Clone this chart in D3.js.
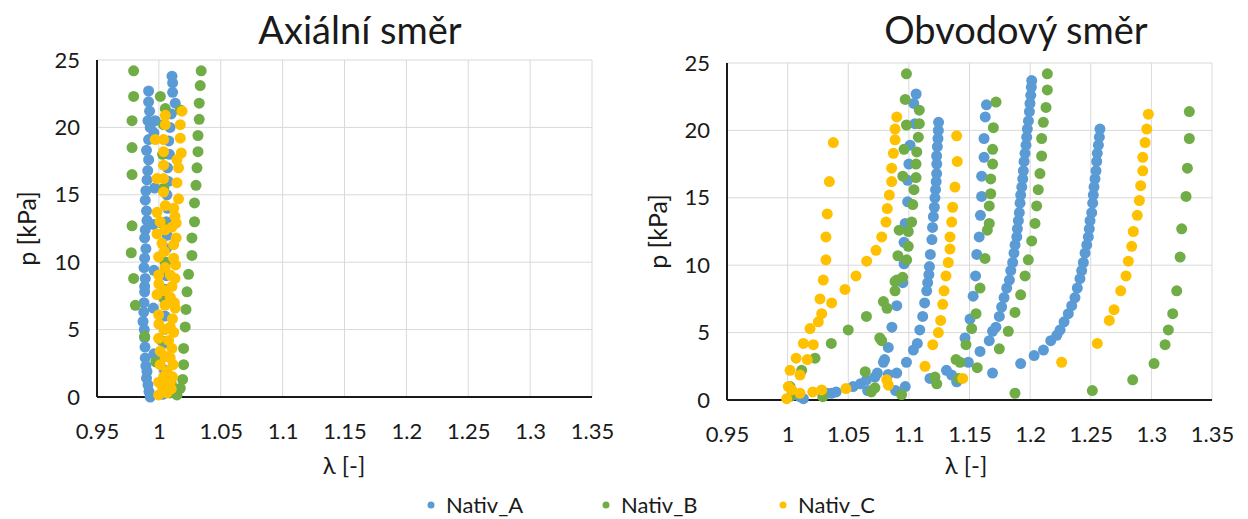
<!DOCTYPE html>
<html>
<head>
<meta charset="utf-8">
<style>
    body { margin: 0; background-color: #ffffff; }
    text { font-family: Lato, "Open Sans", sans-serif; fill: #1a1a1a; }
</style>
</head>
<body>
<div class="board"></div>
<script src="https://d3js.org/d3.v7.min.js"></script>
<script>
    // tick labels and legend
    const xTicks = [0.95, 1, 1.05, 1.1, 1.15, 1.2, 1.25, 1.3, 1.35]
    const yTicks = [0, 5, 10, 15, 20, 25]
    const seriesNames = ["Nativ_A", "Nativ_B", "Nativ_C"]

    // axial direction, [lambda, p kPa]
    const axialA = [
        [0.9917, 22.7], [0.9917, 21.9], [0.9925, 21.2], [0.9912, 20.5], [0.9930, 20.0], [0.9917, 19.1],
        [0.9900, 18.3], [0.9917, 17.6], [0.9910, 16.8], [0.9904, 16.1], [0.9895, 15.3], [0.9890, 14.6],
        [0.9900, 13.8], [0.9904, 13.1], [0.9890, 12.4], [0.9885, 11.8], [0.9895, 11.0], [0.9885, 10.3],
        [0.9880, 9.6], [0.9890, 8.8], [0.9885, 8.2], [0.9885, 7.8], [0.9880, 7.0], [0.9878, 6.3],
        [0.9872, 5.6], [0.9882, 5.0], [0.9885, 4.4], [0.9888, 3.7], [0.9890, 2.9], [0.9895, 2.3],
        [0.9904, 1.9], [0.9900, 1.4], [0.9912, 0.9], [0.9920, 0.4], [0.9930, 0.0],
        [1.0106, 23.8], [1.0111, 23.3], [1.0111, 22.6], [1.0132, 21.8], [1.0100, 21.0], [1.0090, 20.0],
        [1.0080, 19.0], [1.0085, 18.0], [1.0070, 17.0], [1.0075, 16.0], [1.0065, 15.0], [1.0070, 14.0],
        [1.0060, 13.0], [1.0065, 12.0], [1.0060, 11.0], [1.0055, 10.0], [1.0060, 9.0], [1.0050, 8.0],
        [1.0055, 7.0], [1.0050, 6.0], [1.0045, 5.0], [1.0050, 4.0], [1.0040, 3.0], [1.0045, 2.0],
        [1.0035, 1.0], [1.0030, 0.2],
        [0.9971, 20.5], [0.9960, 19.6], [0.9965, 15.5], [0.9955, 12.8], [0.9960, 9.4], [0.9955, 6.6],
        [0.9960, 3.2]
    ]
    const axialB = [
        [0.9796, 24.2], [0.9796, 22.3], [0.9783, 20.5], [0.9783, 18.5], [0.9783, 16.5], [0.9783, 12.7],
        [0.9777, 10.7], [0.9796, 8.8], [0.9810, 6.8], [0.9885, 4.5],
        [1.0342, 24.2], [1.0334, 23.1], [1.0326, 21.8], [1.0326, 20.6], [1.0316, 19.4], [1.0316, 18.2],
        [1.0308, 17.0], [1.0300, 15.7], [1.0288, 14.4], [1.0288, 13.0], [1.0267, 11.8], [1.0267, 10.5],
        [1.0240, 9.1], [1.0227, 7.8], [1.0219, 6.5], [1.0213, 5.2], [1.0200, 3.6], [1.0200, 2.4],
        [1.0192, 1.3], [1.0173, 0.65], [1.0146, 0.15],
        [1.0012, 22.3], [1.0052, 21.4], [1.0173, 21.3], [1.0038, 20.2], [1.0030, 18.0], [1.0040, 15.5],
        [1.0025, 12.9], [1.0050, 10.0], [1.0035, 7.4], [1.0020, 4.2], [0.9975, 2.6], [1.0100, 1.0],
        [1.0090, 0.3]
    ]
    const axialC = [
        [1.0187, 21.2], [1.0052, 20.9], [1.0052, 20.2], [1.0173, 20.2], [1.0173, 19.2], [0.9971, 19.1],
        [1.0038, 19.1], [1.0038, 18.2], [1.0181, 18.1], [1.0146, 17.6], [1.0038, 17.2], [1.0159, 17.0],
        [0.9985, 16.2], [1.0038, 16.2], [1.0146, 15.9], [1.0038, 15.2], [1.0159, 14.7], [1.0052, 14.2],
        [1.0120, 14.0], [0.9985, 13.7], [1.0130, 13.4], [1.0010, 13.0], [1.0140, 12.9], [1.0106, 12.6],
        [0.9985, 12.1], [1.0025, 11.4], [1.0119, 11.3], [0.9998, 10.4], [1.0119, 10.3], [0.9998, 9.05],
        [1.0092, 9.05], [1.0000, 8.4], [1.0106, 8.2], [0.9985, 7.6], [1.0092, 7.4], [1.0132, 6.6],
        [0.9998, 6.1], [1.0110, 5.8], [1.0000, 5.4], [1.0092, 5.2], [0.9998, 4.35], [1.0079, 4.2],
        [1.0105, 3.6], [1.0011, 3.4], [1.0092, 2.9], [1.0011, 2.4], [1.0065, 1.9], [0.9998, 1.1],
        [1.0092, 1.1], [1.0030, 0.7], [1.0100, 0.6], [0.9998, 0.15], [1.0065, 0.3],
        [1.0050, 12.4], [1.0045, 10.8], [1.0050, 9.6], [1.0045, 7.9], [1.0050, 6.8], [1.0045, 5.0],
        [1.0050, 3.0], [1.0040, 1.5], [1.0045, 0.8], [1.0140, 11.8], [1.0135, 9.8], [1.0130, 8.8],
        [1.0125, 7.0], [1.0120, 4.8], [1.0115, 2.4], [1.0110, 1.5]
    ]

    // circumferential direction, [lambda, p kPa]
    const hoopA = [
        [1.010, 0.25], [1.013, 0.1], [1.032, 0.5], [1.036, 0.5], [1.040, 0.6], [1.054, 1.0], [1.060, 1.2],
        [1.065, 1.5], [1.066, 0.7], [1.072, 1.7], [1.074, 2.0], [1.079, 2.8], [1.080, 3.0], [1.083, 3.9],
        [1.083, 1.9], [1.086, 5.4], [1.089, 0.7], [1.090, 7.0], [1.090, 2.0], [1.095, 8.7], [1.096, 10.1],
        [1.096, 11.7], [1.097, 1.0], [1.098, 2.8], [1.097, 13.1], [1.099, 14.7], [1.099, 16.3], [1.100, 17.5],
        [1.101, 18.9], [1.105, 20.5], [1.104, 22.0], [1.106, 22.7],
        [1.1037, 3.7], [1.107, 4.2], [1.109, 5.2], [1.1114, 6.2], [1.113, 7.2], [1.1147, 8.1], [1.1155, 8.7],
        [1.1165, 9.3], [1.117, 9.9], [1.1177, 10.8], [1.119, 11.9], [1.1195, 12.8], [1.1202, 13.6],
        [1.121, 14.3], [1.1215, 15.0], [1.122, 15.6], [1.1225, 16.2], [1.1229, 16.8], [1.123, 17.5],
        [1.1229, 18.1], [1.1235, 18.8], [1.124, 19.4], [1.1243, 20.0], [1.1245, 20.6],
        [1.1174, 1.6], [1.131, 2.2], [1.1353, 1.85], [1.1394, 1.35],
        [1.1463, 4.6], [1.1504, 6.0], [1.149, 2.8], [1.1587, 3.6], [1.153, 7.7], [1.155, 9.2], [1.156, 10.8],
        [1.158, 12.1], [1.159, 13.7], [1.160, 15.1], [1.160, 16.6], [1.162, 18.0], [1.162, 19.4],
        [1.163, 21.0], [1.164, 21.9],
        [1.1663, 4.4], [1.169, 5.1], [1.1718, 5.4], [1.1746, 6.2], [1.1765, 6.9], [1.1785, 7.6], [1.1807, 8.3],
        [1.1829, 8.9], [1.184, 9.6], [1.1856, 10.2], [1.1867, 10.9], [1.1876, 11.5], [1.189, 12.1],
        [1.1895, 12.7], [1.1903, 13.3], [1.1911, 13.9], [1.1917, 14.6], [1.1922, 15.2], [1.1931, 15.8],
        [1.1939, 16.4], [1.1944, 17.0], [1.195, 17.7], [1.1958, 18.3], [1.1966, 18.9], [1.1972, 19.5],
        [1.1977, 20.1], [1.1986, 20.7], [1.1994, 21.4], [1.1999, 22.0], [1.2005, 22.6], [1.2010, 23.2],
        [1.2013, 23.7], [1.169, 2.0],
        [1.1922, 2.7], [1.2033, 3.3], [1.211, 3.7], [1.217, 4.4], [1.222, 4.8], [1.2247, 5.2], [1.228, 5.8],
        [1.2315, 6.4], [1.2343, 7.0], [1.237, 7.6], [1.2389, 8.3], [1.2411, 9.0], [1.2425, 9.6], [1.2439, 10.2],
        [1.2453, 10.9], [1.2467, 11.5], [1.248, 12.1], [1.2488, 12.7], [1.2494, 13.3], [1.2508, 13.9],
        [1.2516, 14.6], [1.2521, 15.2], [1.2527, 15.8], [1.2535, 16.4], [1.2543, 17.0], [1.2549, 17.7],
        [1.2554, 18.3], [1.2563, 18.9], [1.2571, 19.5], [1.2576, 20.1]
    ]
    const hoopB = [
        [1.098, 24.2], [1.097, 22.3], [1.098, 20.4], [1.096, 18.6], [1.095, 16.6], [1.092, 12.6], [1.091, 10.7],
        [1.090, 8.9], [1.079, 7.3], [1.082, 6.8], [1.065, 6.2], [1.050, 5.2], [1.036, 4.2], [1.0226, 3.1],
        [1.0116, 2.2], [1.002, 1.0], [1.003, 0.3], [1.029, 0.25],
        [1.1086, 21.5], [1.1086, 20.5], [1.1078, 19.5], [1.1065, 18.4], [1.1059, 17.5], [1.1059, 16.5],
        [1.1042, 15.6], [1.1032, 14.5], [1.1023, 13.2], [1.0995, 12.5], [1.0995, 11.4], [1.0982, 10.4],
        [1.0949, 9.1], [1.0886, 8.8], [1.0886, 8.1], [1.0776, 4.4], [1.076, 4.6], [1.064, 2.1], [1.069, 0.6],
        [1.072, 0.9], [1.094, 0.4], [1.1215, 1.7], [1.123, 1.2],
        [1.1719, 22.1], [1.1697, 20.2], [1.1691, 18.6], [1.1691, 17.5], [1.1675, 16.4], [1.1675, 15.3],
        [1.1663, 14.4], [1.1663, 13.1], [1.1647, 12.6], [1.1628, 10.5], [1.1587, 8.3], [1.1554, 6.4],
        [1.1518, 5.3], [1.1471, 4.1], [1.1564, 2.4], [1.1422, 2.8], [1.1389, 3.0], [1.1408, 1.6],
        [1.2142, 24.2], [1.2142, 23.0], [1.2131, 21.7], [1.2109, 20.6], [1.2095, 19.4], [1.2095, 18.1],
        [1.2081, 16.8], [1.2067, 15.6], [1.2054, 14.4], [1.2040, 13.1], [1.2013, 11.8], [1.1985, 10.4],
        [1.1958, 9.2], [1.1922, 7.8], [1.1875, 6.5], [1.1820, 5.1], [1.1746, 3.8], [1.1875, 0.5],
        [1.3313, 21.4], [1.3313, 19.4], [1.3297, 17.2], [1.3286, 15.1], [1.3250, 12.7], [1.3237, 10.6],
        [1.3209, 8.1], [1.3176, 6.4], [1.3140, 5.2], [1.3113, 4.1], [1.3022, 2.7], [1.2846, 1.5], [1.2513, 0.7]
    ]
    const hoopC = [
        [1.0377, 19.1], [1.0344, 16.2], [1.0327, 13.8], [1.0316, 12.1], [1.0316, 10.4], [1.0294, 8.9],
        [1.0267, 7.5], [1.0281, 6.4], [1.0253, 5.8], [1.0185, 5.3], [1.0130, 4.2], [1.0212, 4.1],
        [1.0070, 3.1], [1.0162, 3.0], [1.0020, 2.2], [1.0102, 1.85], [1.0006, 1.0], [1.0034, 0.75],
        [1.0102, 0.5], [0.9992, 0.1], [1.0207, 0.6], [1.0281, 0.75], [1.0481, 0.85],
        [1.0900, 21.0], [1.0886, 20.1], [1.0886, 19.3], [1.0872, 18.3], [1.0858, 17.2], [1.0858, 16.2],
        [1.0839, 15.2], [1.0822, 14.2], [1.0811, 13.2], [1.0776, 12.1], [1.0729, 11.1], [1.0652, 10.3],
        [1.0564, 9.2], [1.0473, 8.2], [1.0363, 7.2],
        [1.1394, 19.6], [1.1399, 17.7], [1.1380, 15.8], [1.1361, 14.3], [1.1353, 13.2], [1.1339, 12.1],
        [1.1339, 11.2], [1.1325, 10.2], [1.1306, 9.2], [1.1290, 8.1], [1.1279, 7.1], [1.1262, 5.9],
        [1.1243, 5.0], [1.1197, 4.1], [1.1133, 2.5], [1.0817, 1.5], [1.0831, 1.1], [1.1444, 1.6],
        [1.2975, 21.2], [1.2962, 20.1], [1.2948, 19.1], [1.2929, 18.0], [1.2929, 17.0], [1.2912, 15.9],
        [1.2901, 14.8], [1.2884, 13.7], [1.2851, 12.5], [1.2838, 11.4], [1.2810, 10.3], [1.2791, 9.2],
        [1.2747, 8.1], [1.2692, 6.7], [1.2653, 5.9], [1.2554, 4.2], [1.2260, 2.8]
    ]

    const COLORS = ["#5B9BD5", "#70AD47", "#FFC000"]
    const DOT = 5.5

    const width = 1248, height = 519

    let svg = d3.select(".board")
        .append("svg")
        .attr("width", width)
        .attr("height", height)

    function drawPanel(p) {
        let g = svg.append("g")

        let x = d3.scaleLinear().domain([0.95, 1.35]).range([p.left, p.right])
        let y = d3.scaleLinear().domain([0, 25]).range([p.bottom, p.top])

        // gridlines
        g.append("g")
            .selectAll("line")
            .data(xTicks)
            .enter()
            .append("line")
            .attr("x1", d => x(d)).attr("x2", d => x(d))
            .attr("y1", p.top).attr("y2", p.bottom)
            .attr("stroke", "#d9d9d9")
            .attr("stroke-width", 1)

        g.append("g")
            .selectAll("line")
            .data(yTicks)
            .enter()
            .append("line")
            .attr("x1", p.left).attr("x2", p.right)
            .attr("y1", d => y(d)).attr("y2", d => y(d))
            .attr("stroke", "#d9d9d9")
            .attr("stroke-width", 1)

        // axes (labels only, lines drawn separately)
        let xAxis = g.append("g")
            .attr("transform", "translate(0," + p.bottom + ")")
            .call(d3.axisBottom(x).tickValues(xTicks).tickSize(0).tickPadding(26).tickFormat(d => String(d)))
        let yAxis = g.append("g")
            .attr("transform", "translate(" + p.left + ",0)")
            .call(d3.axisLeft(y).tickValues(yTicks).tickSize(0).tickPadding(17).tickFormat(d => String(d)))

        ;[xAxis, yAxis].forEach(a => {
            a.select(".domain").remove()
            a.selectAll("text")
                .style("font-family", "Lato, 'Open Sans', sans-serif")
                .style("font-size", "22px")
                .attr("fill", "#1a1a1a")
        })

        g.append("line")
            .attr("x1", p.left).attr("x2", p.left)
            .attr("y1", p.top).attr("y2", p.bottom)
            .attr("stroke", "#1a1a1a").attr("stroke-width", 2)
        g.append("line")
            .attr("x1", p.left).attr("x2", p.right)
            .attr("y1", p.bottom).attr("y2", p.bottom)
            .attr("stroke", "#1a1a1a").attr("stroke-width", 2)

        // points, A first so C ends up on top
        p.series.forEach((s, i) => {
            g.append("g")
                .selectAll("circle")
                .data(s)
                .enter()
                .append("circle")
                .attr("cx", d => x(d[0]))
                .attr("cy", d => y(d[1]))
                .attr("r", DOT)
                .attr("fill", COLORS[i])
        })

        // titles
        g.append("text")
            .text(p.title)
            .attr("x", p.titleX)
            .attr("y", 44)
            .attr("text-anchor", "middle")
            .style("font-size", "38px")

        g.append("text")
            .text("λ [-]")
            .attr("x", p.xLabelX)
            .attr("y", 474)
            .attr("text-anchor", "middle")
            .style("font-size", "24px")

        g.append("text")
            .text("p [kPa]")
            .attr("transform", "translate(" + p.yLabelX + "," + ((p.top + p.bottom) / 2) + ") rotate(-90)")
            .attr("text-anchor", "middle")
            .style("font-size", "25px")
    }

    drawPanel({ title: "Axiální směr", titleX: 360, xLabelX: 344, left: 97, right: 592, top: 60, bottom: 397, yLabelX: 36, series: [axialA, axialB, axialC] })
    drawPanel({ title: "Obvodový směr", titleX: 1016, xLabelX: 966, left: 727, right: 1212, top: 63, bottom: 400, yLabelX: 667, series: [hoopA, hoopB, hoopC] })

    // legend
    let legendX = [431, 606, 783]
    let legend = svg.append("g")
    seriesNames.forEach((name, i) => {
        legend.append("circle")
            .attr("cx", legendX[i])
            .attr("cy", 505)
            .attr("r", 3.5)
            .attr("fill", COLORS[i])
        legend.append("text")
            .text(name)
            .attr("x", legendX[i] + 15)
            .attr("y", 513)
            .style("font-size", "22px")
    })
</script>
</body>
</html>
